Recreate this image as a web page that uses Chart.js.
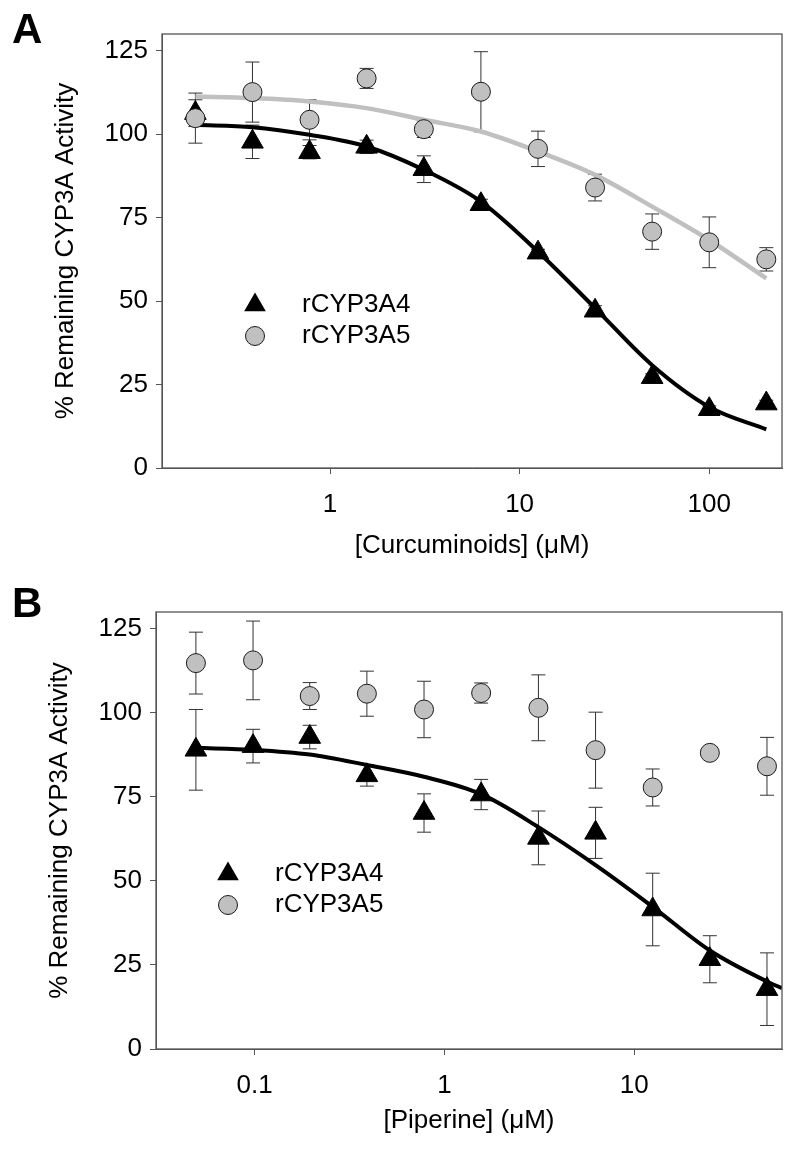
<!DOCTYPE html>
<html>
<head>
<meta charset="utf-8">
<script src="https://cdn.jsdelivr.net/npm/chart.js@4.4.1/dist/chart.umd.min.js"></script>
<style>
  html, body { margin: 0; padding: 0; background: #fff; }
  .panel { position: absolute; left: 0; width: 800px; height: 575px; }
  .lettre { position: absolute; font: bold 42px "Liberation Sans", Arial, sans-serif; line-height: normal; color: #000; }
</style>
</head>
<body>
<div class="panel" style="top:0"><canvas id="graphA" width="800" height="575"></canvas></div>
<div class="panel" style="top:575px"><canvas id="graphB" width="800" height="575"></canvas></div>
<div class="lettre" style="left:12px;top:5px">A</div>
<div class="lettre" style="left:12px;top:579px">B</div>

<script>
// donnees

// panneau A : curcuminoides
const concA = [0.195, 0.39, 0.78, 1.56, 3.125, 6.25, 12.5, 25, 50, 100, 200];
const cyp3a4A = [106.3, 97.7, 94.6, 96.2, 89.5, 79.0, 64.5, 47.1, 27.2, 17.6, 19.3];
const cyp3a4AErr = [4, 5, 2, 2, 4, 1.5, 1, 1.5, 1, 1, 1];
const cyp3a5A = [104.8, 112.6, 104.3, 116.7, 101.5, 112.7, 95.6, 84.0, 70.8, 67.6, 62.5];
const cyp3a5AErr = [7.5, 9, 6, 3, 2.5, 12, 5.3, 4, 5.3, 7.6, 3.5];
const fit3a4A = [102.8, 102.1, 99.8, 96.3, 89.3, 79.8, 64.8, 47.9, 30.8, 18.3, 11.6];
const fit3a5A = [111.3, 110.8, 109.8, 107.8, 104.3, 100.8, 94.8, 87.8, 78.3, 68.3, 56.8];
const ticksXA = [1, 10, 100];

// panneau B : piperine
const concB = [0.049, 0.098, 0.195, 0.39, 0.78, 1.56, 3.125, 6.25, 12.5, 25, 50];
const cyp3a4B = [89.0, 90.1, 92.8, 81.4, 70.2, 75.7, 62.8, 64.3, 41.5, 26.7, 17.8];
const cyp3a4BErr = [12, 5, 3.5, 3.2, 5.7, 4.5, 8, 7.6, 10.8, 7, 10.8];
const cyp3a5B = [114.8, 115.6, 105.0, 105.7, 101.0, 105.9, 101.5, 88.9, 77.8, 88.1, 84.1];
const cyp3a5BErr = [9.2, 11.7, 4, 6.7, 8.4, 3, 9.8, 11.3, 5.5, 0, 8.6];
const fitXB = [0.049, 0.098, 0.195, 0.39, 0.78, 1.56, 3.125, 6.25, 12.5, 25, 50, 60];
const fit3a4B = [89.6, 89.0, 87.6, 84.5, 81.0, 75.8, 66.0, 54.7, 42.3, 29.3, 20.1, 18.1];
const ticksXB = [0.1, 1, 10];

const ticksY = [0, 25, 50, 75, 100, 125];

const police = '"Liberation Sans", Arial, sans-serif';
const fontTxt = { family: police, size: 26 };
const gris = '#c0c0c0';
const trait = '#555';

function pts(xs, ys) {
  return xs.map((x, i) => ({ x: x, y: ys[i] }));
}

// barres d'erreur sous les marqueurs
const barresErreur = {
  id: 'barresErreur',
  beforeDatasetsDraw(chart) {
    const ctx = chart.ctx;
    const yS = chart.scales.y;
    ctx.save();
    ctx.strokeStyle = '#333';
    ctx.lineWidth = 1;
    chart.data.datasets.forEach((ds, i) => {
      if (!ds.errors) return;
      const meta = chart.getDatasetMeta(i);
      meta.data.forEach((pt, j) => {
        const e = ds.errors[j];
        if (!e) return;
        const v = ds.data[j].y;
        const y1 = yS.getPixelForValue(v + e);
        const y2 = yS.getPixelForValue(v - e);
        ctx.beginPath();
        ctx.moveTo(pt.x, y1); ctx.lineTo(pt.x, y2);
        ctx.moveTo(pt.x - 7, y1); ctx.lineTo(pt.x + 7, y1);
        ctx.moveTo(pt.x - 7, y2); ctx.lineTo(pt.x + 7, y2);
        ctx.stroke();
      });
    });
    ctx.restore();
  }
};

// cadre complet autour de la zone du graphique
const cadre = {
  id: 'cadre',
  afterDraw(chart) {
    const a = chart.chartArea;
    const ctx = chart.ctx;
    ctx.save();
    ctx.strokeStyle = trait;
    ctx.lineWidth = 1.3;
    ctx.strokeRect(a.left, a.top, a.right - a.left, a.bottom - a.top);
    ctx.restore();
  }
};

// legende dans le graphique
const legendeInterne = {
  id: 'legendeInterne',
  afterDraw(chart, args, opts) {
    const ctx = chart.ctx;
    ctx.save();
    // triangle
    const r = 12.5;
    ctx.fillStyle = '#000';
    ctx.beginPath();
    ctx.moveTo(opts.x, opts.y1 - r);
    ctx.lineTo(opts.x + r * Math.sin(2 * Math.PI / 3), opts.y1 + r / 2);
    ctx.lineTo(opts.x - r * Math.sin(2 * Math.PI / 3), opts.y1 + r / 2);
    ctx.closePath();
    ctx.fill();
    // cercle
    ctx.beginPath();
    ctx.arc(opts.x, opts.y2, 9.5, 0, 2 * Math.PI);
    ctx.fillStyle = gris;
    ctx.fill();
    ctx.strokeStyle = '#1a1a1a';
    ctx.lineWidth = 1;
    ctx.stroke();
    // textes
    ctx.fillStyle = '#000';
    ctx.font = '26px ' + police;
    ctx.textAlign = 'left';
    ctx.textBaseline = 'middle';
    ctx.fillText('rCYP3A4', opts.tx, opts.y1);
    ctx.fillText('rCYP3A5', opts.tx, opts.y2);
    ctx.restore();
  }
};

function makePanel(id, p) {
  const datasets = [
    { label: 'rCYP3A5', data: pts(p.conc, p.a5), errors: p.a5Err, pointStyle: 'circle', pointRadius: 9.5,
      backgroundColor: gris, borderColor: '#1a1a1a', borderWidth: 1 },
    { label: 'rCYP3A4', data: pts(p.conc, p.a4), errors: p.a4Err, pointStyle: 'triangle', pointRadius: 12.5,
      backgroundColor: '#000', borderColor: '#000', borderWidth: 1 },
    { label: 'fit 3A4', data: pts(p.fitX4, p.fit4), showLine: true, pointRadius: 0, borderColor: '#000',
      borderWidth: 4, cubicInterpolationMode: 'monotone' }
  ];
  if (p.fit5) {
    datasets.push({ label: 'fit 3A5', data: pts(p.fitX5, p.fit5), showLine: true, pointRadius: 0,
      borderColor: gris, borderWidth: 4.5, cubicInterpolationMode: 'monotone' });
  }

  return new Chart(document.getElementById(id), {
    type: 'scatter',
    data: { datasets: datasets },
    options: {
      responsive: false,
      animation: false,
      events: [],
      layout: { padding: { top: p.top, right: p.right, left: 0, bottom: 0 }, autoPadding: false },
      plugins: {
        legend: { display: false },
        tooltip: { enabled: false },
        legendeInterne: p.legende
      },
      scales: {
        x: {
          type: 'logarithmic',
          min: p.xMin,
          max: p.xMax,
          afterBuildTicks: (s) => { s.ticks = p.xTicks.map(v => ({ value: v })); },
          afterFit: (s) => { s.height = p.xHeight; },
          ticks: { callback: (v) => String(v), font: fontTxt, color: '#000', padding: 15, autoSkip: false, maxRotation: 0 },
          grid: { display: true, drawOnChartArea: false, drawTicks: true, tickLength: 6, color: trait },
          border: { display: true, color: trait },
          title: { display: true, text: p.xTitle, font: fontTxt, color: '#000', padding: { top: 0, bottom: 14 } }
        },
        y: {
          min: 0,
          max: 130,
          afterBuildTicks: (s) => { s.ticks = ticksY.map(v => ({ value: v })); },
          afterFit: (s) => { s.width = p.yWidth; },
          ticks: { font: fontTxt, color: '#000', padding: 8 },
          grid: { display: true, drawOnChartArea: false, drawTicks: true, tickLength: 6, color: trait },
          border: { display: true, color: trait },
          title: { display: true, text: '% Remaining CYP3A Activity', font: fontTxt, color: '#000',
                   padding: { top: p.yTitlePad, bottom: 0 } }
        }
      }
    },
    plugins: [barresErreur, cadre, legendeInterne]
  });
}

makePanel('graphA', {
  conc: concA, a4: cyp3a4A, a4Err: cyp3a4AErr, a5: cyp3a5A, a5Err: cyp3a5AErr,
  fitX4: concA, fit4: fit3a4A, fitX5: concA, fit5: fit3a5A,
  xMin: 0.13, xMax: 242, xTicks: ticksXA, xTitle: '[Curcuminoids] (μM)',
  top: 34, right: 18, xHeight: 107, yWidth: 162, yTitlePad: 50,
  legende: { x: 255, tx: 302, y1: 305, y2: 336 }
});

makePanel('graphB', {
  conc: concB, a4: cyp3a4B, a4Err: cyp3a4BErr, a5: cyp3a5B, a5Err: cyp3a5BErr,
  fitX4: fitXB, fit4: fit3a4B,
  xMin: 0.0302, xMax: 60, xTicks: ticksXB, xTitle: '[Piperine] (μM)',
  top: 37, right: 18, xHeight: 101, yWidth: 156, yTitlePad: 44,
  legende: { x: 228, tx: 275, y1: 299, y2: 330 }
});
</script>
</body>
</html>
